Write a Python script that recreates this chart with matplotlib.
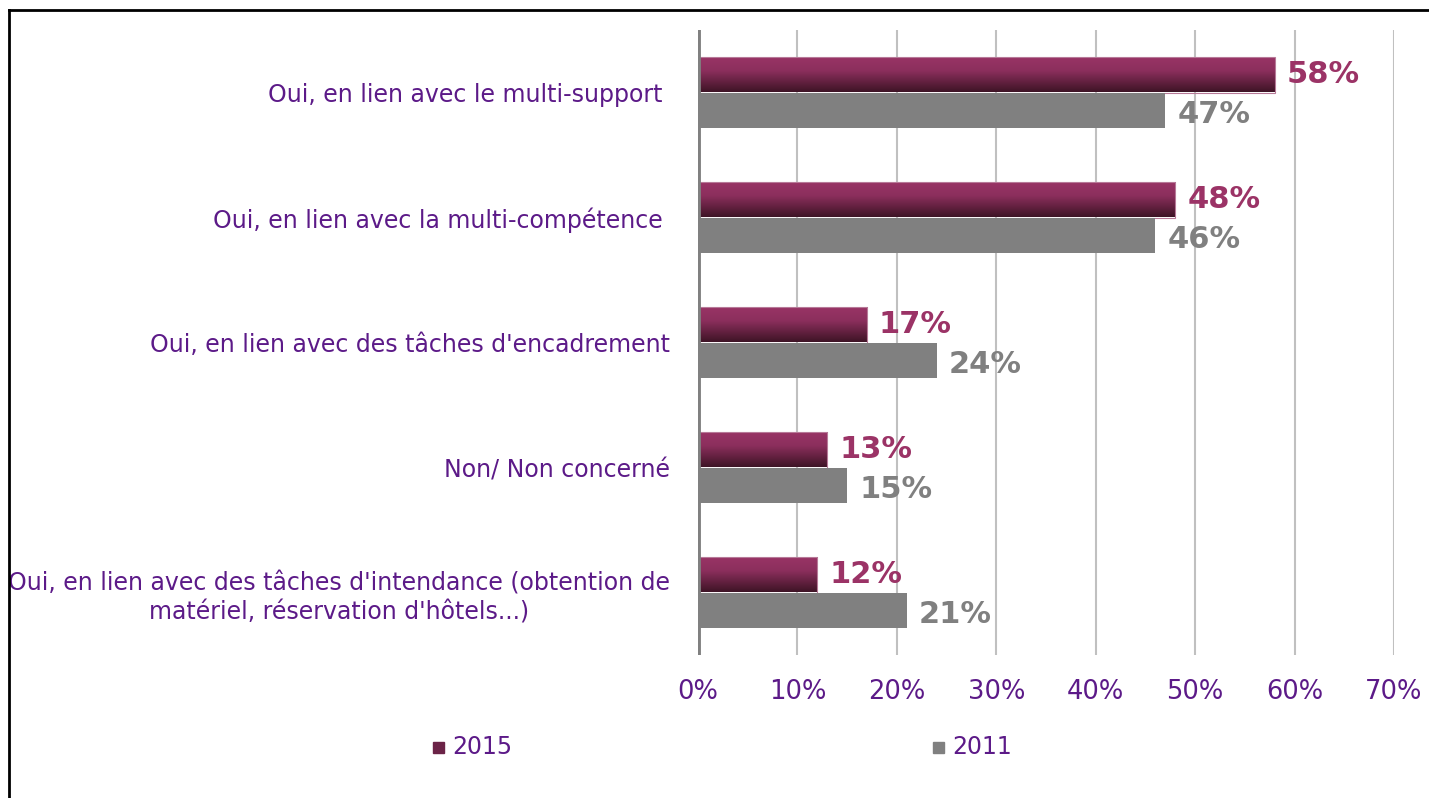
import numpy as np
import matplotlib.pyplot as plt
from matplotlib.colors import LinearSegmentedColormap
from matplotlib.patches import Rectangle
from matplotlib.lines import Line2D

categories = [
    "Oui, en lien avec le multi-support ",
    "Oui, en lien avec la multi-compétence ",
    "Oui, en lien avec des tâches d'encadrement",
    "Non/ Non concerné",
    "Oui, en lien avec des tâches d'intendance (obtention de\nmatériel, réservation d'hôtels...)",
]
values_2015 = [58, 48, 17, 13, 12]
values_2011 = [47, 46, 24, 15, 21]
xticks = [0, 10, 20, 30, 40, 50, 60, 70]

purple = '#5c1a88'
magenta = '#9b3366'
grey = '#808080'

plt.rcParams['font.family'] = ['DejaVu Sans']

fig = plt.figure(figsize=(14.29, 7.98), dpi=100)
ax = fig.add_axes([698 / 1429, 1 - 655 / 798, 696 / 1429, 625 / 798])

y = np.arange(len(categories))
h = 0.285

bars15 = ax.barh(y - h / 2, values_2015, height=h, color='none',
                 edgecolor='#b77a98', linewidth=0.8, zorder=3)
ax.barh(y + h / 2, values_2011, height=h, color=grey, zorder=3)

# vertical gradient for the 2015 bars
cmap = LinearSegmentedColormap.from_list(
    'mag', [(0, '#9a3466'), (0.4, '#8c2f5d'), (1, '#3f1426')])
grad = np.linspace(0, 1, 64).reshape(-1, 1)
for b in bars15:
    x0, y0 = b.get_x(), b.get_y()
    im = ax.imshow(grad, cmap=cmap, aspect='auto', origin='upper',
                   extent=[x0, x0 + b.get_width(), y0 + b.get_height(), y0],
                   zorder=2.5)
    im.set_clip_path(b)

for i, (v15, v11) in enumerate(zip(values_2015, values_2011)):
    ax.text(v15 + 1.2, i - h / 2, f"{v15}%", color=magenta, fontsize=22,
            fontweight='bold', va='center', ha='left', zorder=4)
    ax.text(v11 + 1.2, i + h / 2 + 0.03, f"{v11}%", color=grey, fontsize=22,
            fontweight='bold', va='center', ha='left', zorder=4)

ax.set_xlim(0, 70)
ax.set_ylim(len(categories) - 0.5, -0.5)
ax.set_xticks(xticks)
ax.set_xticklabels([f"{t}%" for t in xticks])
ax.set_yticks(y)
ax.set_yticklabels(categories, multialignment='center', linespacing=1.3)
ax.tick_params(axis='x', length=0, pad=17, labelsize=18.5, labelcolor=purple)
ax.tick_params(axis='y', length=0, pad=20, labelsize=17, labelcolor=purple)

ax.grid(axis='x', color='#c0c0c0', linewidth=1.5, zorder=0)
ax.set_axisbelow(True)
for s in ax.spines.values():
    s.set_visible(False)
ax.axvline(0, color=grey, linewidth=3.5, zorder=5)

# legend
fig.patches.append(Rectangle((433 / 1429, 1 - 753 / 798), 11 / 1429, 11 / 798,
                             transform=fig.transFigure, color='#6b2347'))
fig.text(452 / 1429, 1 - 747 / 798, "2015", color=purple, fontsize=17,
         va='center', ha='left')
fig.patches.append(Rectangle((933 / 1429, 1 - 753 / 798), 11 / 1429, 11 / 798,
                             transform=fig.transFigure, color=grey))
fig.text(952 / 1429, 1 - 747 / 798, "2011", color=purple, fontsize=17,
         va='center', ha='left')

# outer frame (top and left edges visible)
fig.lines.append(Line2D([9 / 1429, 9 / 1429], [0, 1 - 10 / 798],
                        transform=fig.transFigure, color='black', linewidth=2))
fig.lines.append(Line2D([9 / 1429, 1], [1 - 10 / 798, 1 - 10 / 798],
                        transform=fig.transFigure, color='black', linewidth=2))

fig.savefig('out.png', dpi=100)
